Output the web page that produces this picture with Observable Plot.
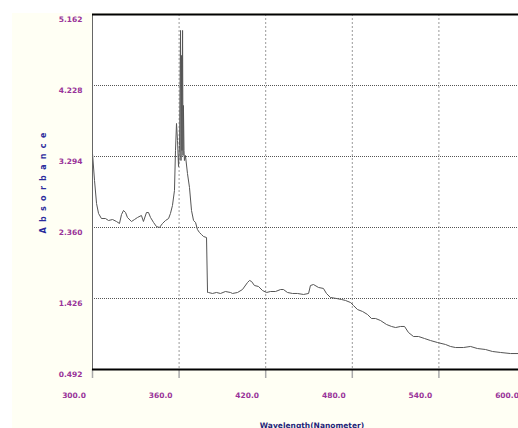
<!DOCTYPE html>
<html>
<head>
<meta charset="utf-8">
<script src="https://cdn.jsdelivr.net/npm/d3@7"></script>
<script src="https://cdn.jsdelivr.net/npm/@observablehq/plot@0.6"></script>
<style>
  html, body { margin: 0; padding: 0; background: #ffffff; overflow: hidden; width: 518px; height: 428px; }
  #chart { position: absolute; left: 12px; top: 13px; }
  #chart svg { background: #fffff4 !important; max-width: none; }
</style>
</head>
<body>
<div id="chart"></div>
<script>
const wavelength = [300.0, 301.4, 302.8, 304.2, 306.2, 309.0, 311.1, 313.9, 316.6, 318.7, 320.1, 321.5, 322.9, 324.2, 327.0, 329.1, 331.2, 333.9, 335.3, 337.4, 338.8, 340.2, 342.3, 344.3, 346.4, 348.5, 350.6, 352.7, 354.0, 355.4, 356.8, 357.5, 358.2, 358.9, 359.6, 360.3, 361.0, 361.3, 361.7, 362.0, 362.4, 362.7, 363.0, 363.4, 363.7, 364.4, 365.8, 367.2, 368.6, 370.0, 371.4, 372.7, 374.1, 375.5, 376.9, 379.0, 379.7, 380.4, 383.1, 385.9, 388.7, 392.1, 395.6, 397.0, 400.5, 403.9, 407.4, 408.8, 410.2, 412.2, 415.0, 417.8, 420.6, 423.3, 426.8, 430.3, 432.3, 435.1, 438.6, 442.0, 446.2, 449.7, 451.0, 453.1, 456.6, 460.0, 462.1, 464.9, 469.1, 472.5, 475.3, 478.8, 480.8, 483.6, 487.1, 490.5, 493.3, 496.1, 499.5, 503.7, 507.2, 510.0, 513.4, 516.2, 518.9, 522.4, 525.9, 530.0, 534.2, 539.0, 544.6, 548.0, 551.5, 557.0, 561.9, 566.7, 572.3, 577.1, 582.7, 589.6, 595.2, 600.0];
const absorbance = [3.333, 2.978, 2.676, 2.544, 2.478, 2.478, 2.452, 2.465, 2.439, 2.413, 2.531, 2.584, 2.557, 2.492, 2.439, 2.465, 2.492, 2.518, 2.439, 2.557, 2.557, 2.492, 2.426, 2.373, 2.360, 2.413, 2.452, 2.478, 2.544, 2.649, 2.847, 3.373, 3.728, 3.505, 3.162, 3.439, 4.952, 3.241, 4.623, 3.373, 4.952, 3.307, 3.965, 3.373, 3.241, 3.307, 3.070, 2.886, 2.584, 2.452, 2.426, 2.334, 2.294, 2.268, 2.242, 2.228, 1.505, 1.505, 1.492, 1.505, 1.492, 1.518, 1.505, 1.492, 1.505, 1.544, 1.636, 1.663, 1.650, 1.597, 1.584, 1.531, 1.505, 1.518, 1.518, 1.544, 1.544, 1.505, 1.492, 1.492, 1.479, 1.492, 1.597, 1.610, 1.571, 1.558, 1.492, 1.439, 1.426, 1.413, 1.400, 1.373, 1.334, 1.281, 1.255, 1.216, 1.163, 1.163, 1.137, 1.084, 1.058, 1.044, 1.058, 1.058, 0.979, 0.926, 0.926, 0.900, 0.873, 0.847, 0.821, 0.795, 0.781, 0.781, 0.795, 0.768, 0.755, 0.729, 0.716, 0.702, 0.702, 0.700];
const xTicks = [300, 360, 420, 480, 540, 600];
const yTicks = [0.492, 1.426, 2.360, 3.294, 4.228, 5.162];
const xLabel = "Wavelength(Nanometer)";
const yLabel = "Absorbance";

const data = wavelength.map((w, i) => ({w, a: absorbance[i]}));
const purple = "#993399";
const font = "DejaVu Sans, Verdana, sans-serif";

const chart = Plot.plot({
  width: 506,
  height: 415,
  marginLeft: 80,
  marginRight: -7,
  marginTop: 1,
  marginBottom: 59,
  style: {fontFamily: font, background: "#fffff4", overflow: "hidden"},
  x: {domain: [300, 600], axis: null},
  y: {domain: [0.492, 5.162], axis: null},
  marks: [
    Plot.frame({fill: "white", stroke: null}),
    Plot.gridX(xTicks, {stroke: "#9a9a9a", strokeOpacity: 1, strokeDasharray: "2,2"}),
    Plot.gridY(yTicks, {stroke: "#555", strokeOpacity: 1, strokeDasharray: "1,1"}),
    Plot.line(data, {x: "w", y: "a", stroke: "#555", strokeWidth: 1}),
    Plot.ruleX([300], {stroke: "#666", strokeWidth: 1}),
    Plot.ruleY([5.162], {stroke: "#000", strokeWidth: 2}),
    Plot.axisY(yTicks, {
      anchor: "left", tickSize: 0, tickPadding: 10, label: null, dy: 5,
      tickFormat: d3.format(".3f"), fill: purple, fontWeight: "bold", fontSize: 7.5
    }),
    Plot.axisX(xTicks, {
      anchor: "bottom", tickSize: 9, tickPadding: 14, label: null, stroke: "#aaa", strokeWidth: 1.5,
      tickFormat: () => "", fontSize: 7.5
    }),
    Plot.axisX(xTicks, {
      anchor: "bottom", tickSize: 0, tickPadding: 23, label: null, stroke: "none",
      tickFormat: d3.format(".1f"), fill: purple, fontWeight: "bold", fontSize: 7.5, dx: -18.5
    }),
    Plot.ruleY([0.492], {stroke: "#000", strokeWidth: 2}),
    Plot.text([yLabel], {
      frameAnchor: "left", textAnchor: "start", dx: -49, dy: 41.5, rotate: -90, text: d => d,
      fill: "#2b2b9c", fontWeight: "bold", fontSize: 8
    }),
    Plot.text([xLabel], {
      frameAnchor: "bottom", lineAnchor: "bottom", dy: 58, dx: 3, text: d => d,
      fill: "#1f1f78", fontWeight: "bold", fontSize: 7.5
    })
  ]
});

d3.select(chart).selectAll("text").filter(function() { return this.textContent === yLabel; })
  .attr("letter-spacing", "5.3px");

document.getElementById("chart").appendChild(chart);
</script>
</body>
</html>
